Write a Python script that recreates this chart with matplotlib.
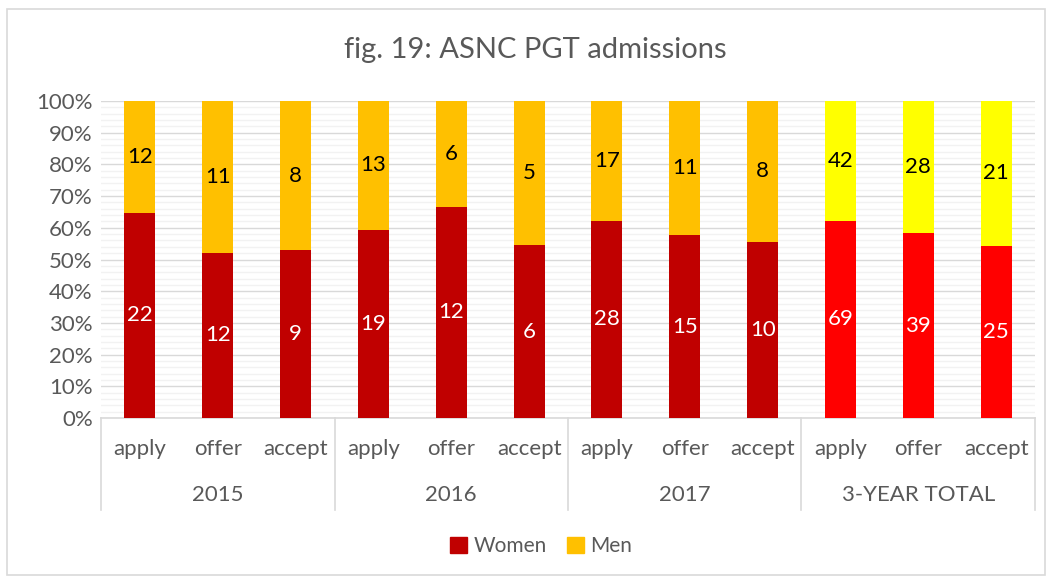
import matplotlib.pyplot as plt
import matplotlib.transforms as mtransforms
from matplotlib.patches import Patch, Rectangle
import numpy as np

plt.rcParams['font.family'] = ['Lato', 'DejaVu Sans']

groups = ['2015', '2016', '2017', '3-YEAR TOTAL']
stages = ['apply', 'offer', 'accept']
women = [22, 12, 9, 19, 12, 6, 28, 15, 10, 69, 39, 25]
men = [12, 11, 8, 13, 6, 5, 17, 11, 8, 42, 28, 21]

women_col = ['#C00000'] * 9 + ['#FF0000'] * 3
men_col = ['#FFC000'] * 9 + ['#FFFF00'] * 3
txt = '#595959'
fs = 16

w = np.array(women, dtype=float)
m = np.array(men, dtype=float)
tot = w + m
w_pct = w / tot * 100
m_pct = m / tot * 100
x = np.arange(len(women))

fig = plt.figure(figsize=(10.51, 5.78), dpi=100)
ax = fig.add_axes([101 / 1051, 1 - 418 / 578, 934 / 1051, 317 / 578])

# chart border
fig.patches.append(Rectangle((7 / 1051, 3 / 578), 1038 / 1051, 566 / 578,
                             transform=fig.transFigure, fill=False,
                             edgecolor='#D9D9D9', linewidth=1.2))

ax.bar(x, w_pct, width=0.4, color=women_col, zorder=3)
ax.bar(x, m_pct, width=0.4, bottom=w_pct, color=men_col, zorder=3)

for i in x:
    ax.text(i, w_pct[i] / 2, str(women[i]), ha='center', va='center',
            color='white', fontsize=fs, zorder=4)
    ax.text(i, w_pct[i] + m_pct[i] / 2, str(men[i]), ha='center', va='center',
            color='black', fontsize=fs, zorder=4)

ax.set_xlim(-0.5, len(women) - 0.5)
ax.set_ylim(0, 100)
ax.set_yticks(np.arange(0, 101, 10))
ax.set_yticklabels([f'{v}%' for v in range(0, 101, 10)], color=txt, fontsize=fs)
ax.set_yticks(np.arange(0, 101, 2), minor=True)
ax.grid(axis='y', which='major', color='#D9D9D9', linewidth=1, zorder=0)
ax.grid(axis='y', which='minor', color='#F2F2F2', linewidth=1, zorder=0)
ax.tick_params(axis='y', which='both', length=0, pad=6)
ax.set_xticks([])
for s in ['top', 'right', 'left']:
    ax.spines[s].set_visible(False)
ax.spines['bottom'].set_color('#D9D9D9')
ax.spines['bottom'].set_linewidth(1.2)

trans = mtransforms.blended_transform_factory(ax.transData, ax.transAxes)
for i in x:
    ax.text(i, -0.098, stages[i % 3], transform=trans, ha='center', va='center',
            color=txt, fontsize=fs)
for g, name in enumerate(groups):
    ax.text(g * 3 + 1, -0.243, name, transform=trans, ha='center', va='center',
            color=txt, fontsize=fs)
for b in range(len(groups) + 1):
    ax.plot([b * 3 - 0.5, b * 3 - 0.5], [0, -0.29], transform=trans,
            color='#D9D9D9', linewidth=1.2, clip_on=False)

fig.text(0.509, 1 - 50 / 578, 'fig. 19: ASNC PGT admissions', ha='center',
         va='center', color=txt, fontsize=21)

handles = [Patch(color='#C00000', label='Women'), Patch(color='#FFC000', label='Men')]
fig.legend(handles=handles, loc='center', bbox_to_anchor=(0.515, 1 - 546 / 578),
           ncol=2, frameon=False, fontsize=15, labelcolor=txt,
           handlelength=0.8, handleheight=0.8, handletextpad=0.3, columnspacing=1.0)

fig.savefig('out.png', dpi=100)
